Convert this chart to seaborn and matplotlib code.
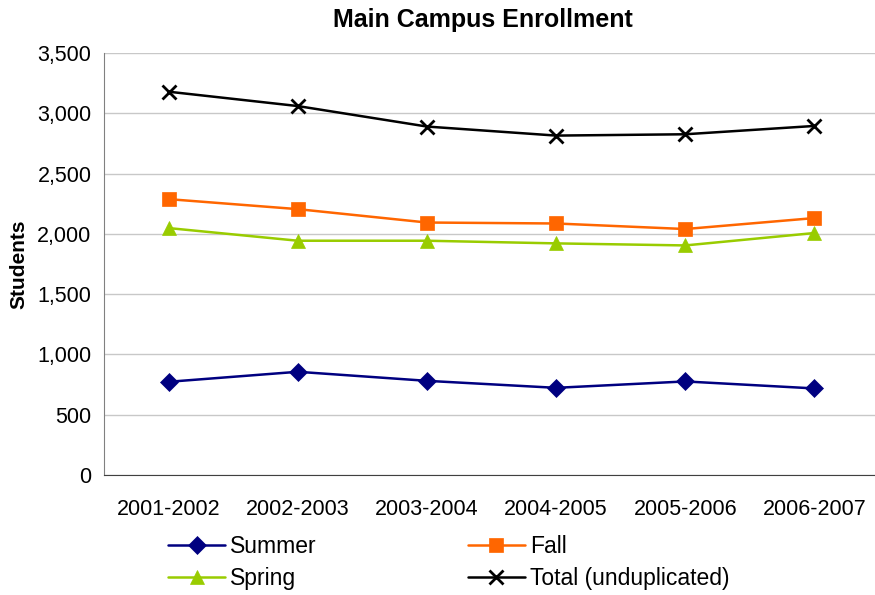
import pandas as pd
import seaborn as sns
import matplotlib.pyplot as plt
from matplotlib.ticker import FuncFormatter, FixedLocator

years = ["2001-2002", "2002-2003", "2003-2004", "2004-2005", "2005-2006", "2006-2007"]
summer = [773, 856, 781, 723, 776, 718]
fall = [2288, 2205, 2094, 2086, 2040, 2131]
spring = [2048, 1943, 1943, 1921, 1904, 2007]
total = [3179, 3060, 2890, 2815, 2826, 2895]

series_names = ["Summer", "Fall", "Spring", "Total (unduplicated)"]
colors = {"Summer": "#000080", "Fall": "#FF6600", "Spring": "#99CC00",
          "Total (unduplicated)": "#000000"}
markers = {"Summer": "D", "Fall": "s", "Spring": "^", "Total (unduplicated)": "x"}
msizes = {"Summer": 9.5, "Fall": 10, "Spring": 10.5, "Total (unduplicated)": 10.5}

rows = []
for name, vals in zip(series_names, [summer, fall, spring, total]):
    for i, v in enumerate(vals):
        rows.append({"pos": i, "year": years[i], "series": name, "students": v})
df = pd.DataFrame(rows)

sns.set_style("white")
plt.rcParams["font.family"] = ["Liberation Sans", "DejaVu Sans"]
plt.rcParams["text.color"] = "black"
plt.rcParams["axes.labelcolor"] = "black"
plt.rcParams["xtick.labelcolor"] = "black"
plt.rcParams["ytick.labelcolor"] = "black"

fig = plt.figure(figsize=(8.75, 5.95), dpi=100)
ax = fig.add_axes([104 / 875, 1 - 475 / 595, 775 / 875, 422 / 595])

for name in series_names:
    sub = df[df["series"] == name]
    sns.lineplot(data=sub, x="pos", y="students", ax=ax, color=colors[name],
                 marker=markers[name], markersize=msizes[name],
                 markeredgewidth=2 if name == "Total (unduplicated)" else 0.5,
                 markeredgecolor=colors[name], linewidth=1.8, label=name)

ax.set_xlim(-0.5, 5.5)
ax.set_ylim(0, 3500)
ax.set_yticks(range(0, 3501, 500))
ax.yaxis.set_major_formatter(FuncFormatter(lambda v, p: f"{int(v):,}"))
ax.set_xticks(range(len(years)))
ax.set_xticklabels(years)
ax.xaxis.set_minor_locator(FixedLocator([i - 0.5 for i in range(len(years) + 1)]))
ax.tick_params(axis="x", which="major", length=0, pad=17.5, labelsize=15.5)
ax.tick_params(axis="x", which="minor", length=6, color="#404040", direction="out")
ax.tick_params(axis="y", which="major", length=6, color="#808080", direction="out",
               labelsize=15.5, pad=3)
ax.grid(axis="y", color="#c8c8c8", linewidth=1)
ax.set_axisbelow(True)
for s in ["top", "right"]:
    ax.spines[s].set_visible(False)
ax.spines["left"].set_color("#808080")
ax.spines["bottom"].set_color("#404040")

ax.set_xlabel("")
ax.set_ylabel("Students", fontsize=15, fontweight="bold", labelpad=6)
fig.text(483 / 875, 1 - 20 / 595, "Main Campus Enrollment", ha="center", va="center",
         fontsize=18, fontweight="bold")

handles, labels = ax.get_legend_handles_labels()
order = [labels.index(n) for n in ["Summer", "Spring", "Fall", "Total (unduplicated)"]]
ax.legend([handles[i] for i in order], [labels[i] for i in order], ncol=2,
          loc="upper left", bbox_to_anchor=(168 / 875, 1 - 535 / 595),
          bbox_transform=fig.transFigure, frameon=False, fontsize=16.5,
          handlelength=2.5, handletextpad=0.2, columnspacing=6.6, labelspacing=0.4,
          borderaxespad=0, borderpad=0)

fig.savefig("out.png", dpi=100)
